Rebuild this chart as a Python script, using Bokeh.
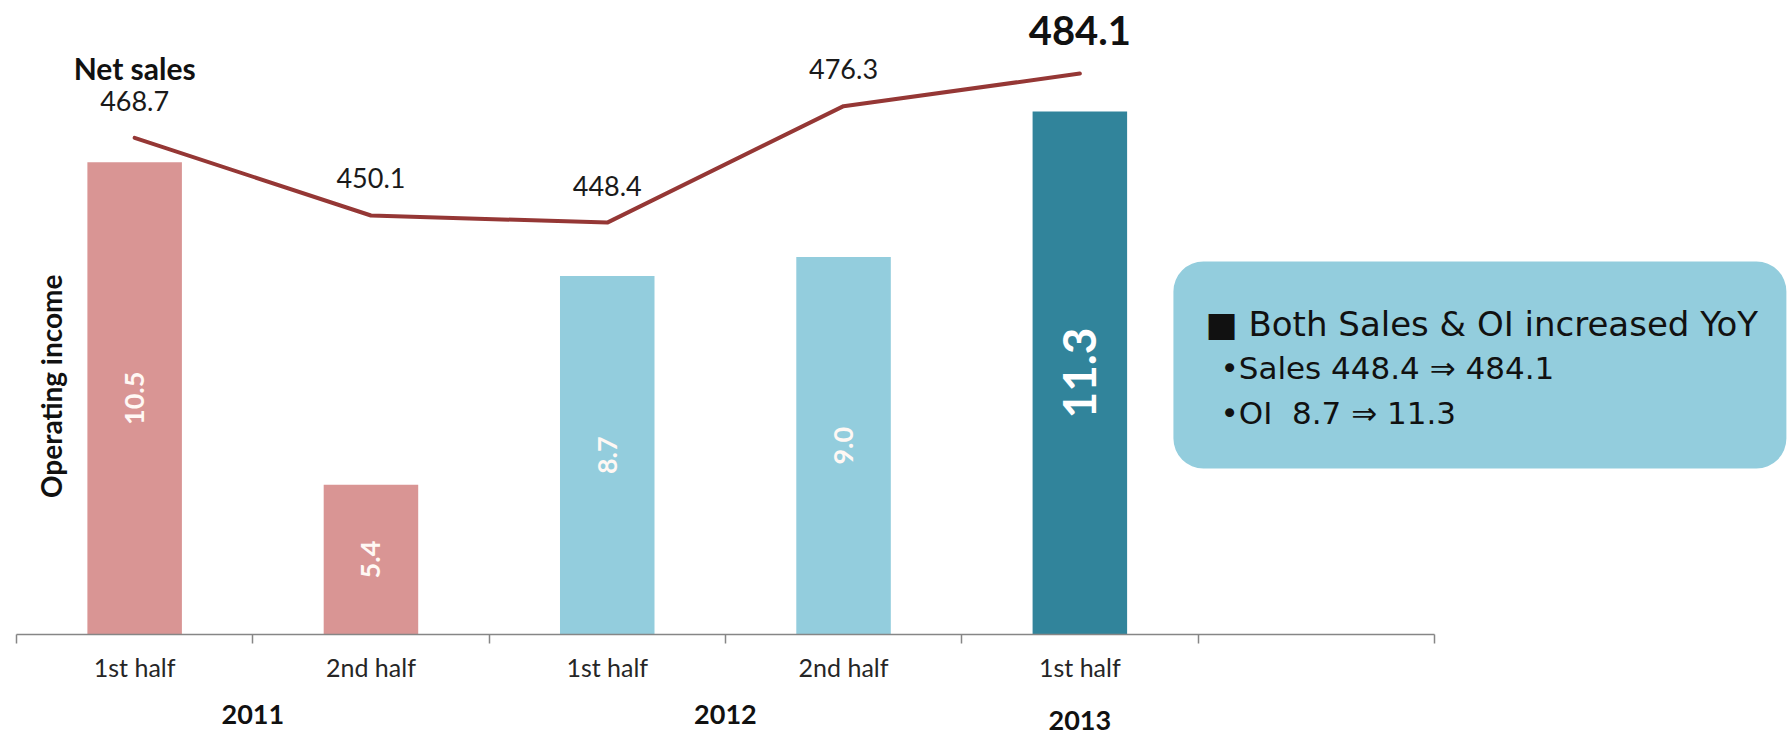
import math
from bokeh.plotting import figure
from bokeh.models import Range1d, LinearAxis, FixedTicker, BoxAnnotation, Label
from bokeh.core.properties import value
from bokeh.embed import file_html
from bokeh.resources import INLINE

# ---------------- data ----------------
years = ["2011", "2012", "2013"]
year_slots = [[0, 1], [2, 3], [4]]          # which half-year slots belong to each year
halves = ["1st half", "2nd half", "1st half", "2nd half", "1st half"]
operating_income = [10.5, 5.4, 8.7, 9.0, 11.3]
net_sales = [468.7, 450.1, 448.4, 476.3, 484.1]
bar_colors = ["#D99594", "#D99594", "#93CDDD", "#93CDDD", "#31849B"]
n_slots = 6
box_lines = ["\u25a0 Both Sales & OI increased YoY",
             "\u2022Sales 448.4 \u21d2 484.1",
             "\u2022OI \u00a08.7 \u21d2 11.3"]

# ---------------- layout ----------------
W, H = 1789, 752
slot_px = 236.3
frame_w = W - 16
oi_lo, oi_hi = 3.03, 12.93
ns_lo, ns_hi = 349.7, 499.7

xs = [i + 0.5 for i in range(len(halves))]

p = figure(width=W, height=H, output_backend="svg", toolbar_location=None,
           x_range=Range1d(0, frame_w / slot_px), y_range=Range1d(oi_lo, oi_hi),
           x_axis_location=None, y_axis_location=None,
           min_border_left=16, min_border_right=0, min_border_top=8, min_border_bottom=118)
p.extra_y_ranges = {"sales": Range1d(ns_lo, ns_hi)}
p.outline_line_color = None
p.grid.grid_line_color = None
p.background_fill_color = "white"

# ---- x axis: half-year labels, tick marks at slot boundaries ----
ax = LinearAxis(ticker=FixedTicker(ticks=xs, minor_ticks=list(range(n_slots + 1))))
ax.bounds = (0, n_slots)
ax.major_label_overrides = {x: h for x, h in zip(xs, halves)}
ax.axis_line_color = "#868686"
ax.axis_line_width = 1.5
ax.major_tick_line_color = None
ax.major_tick_in = 0
ax.major_tick_out = 0
ax.minor_tick_line_color = "#868686"
ax.minor_tick_line_width = 1.5
ax.minor_tick_in = 0
ax.minor_tick_out = 9
ax.major_label_text_font = "Lato"
ax.major_label_text_font_size = "25px"
ax.major_label_text_color = "#262626"
ax.major_label_standoff = 8
p.add_layout(ax, "below")


def year_axis(idx, standoff):
    pos = [sum(xs[i] for i in year_slots[k]) / len(year_slots[k]) for k in idx]
    a = LinearAxis(ticker=FixedTicker(ticks=pos, minor_ticks=[]))
    a.major_label_overrides = {x: years[k] for x, k in zip(pos, idx)}
    a.axis_line_color = None
    a.major_tick_line_color = None
    a.minor_tick_line_color = None
    a.major_tick_in = 0
    a.major_tick_out = 0
    a.minor_tick_in = 0
    a.minor_tick_out = 0
    a.major_label_text_font = "Lato"
    a.major_label_text_font_style = "bold"
    a.major_label_text_font_size = "27px"
    a.major_label_text_color = "#111111"
    a.major_label_standoff = standoff
    return a


# ---- x axes: year group labels (2013 sits a little lower in the original) ----
p.add_layout(year_axis([0, 1], 20), "below")
p.add_layout(year_axis([2], -16), "below")

# ---- bars (operating income) ----
p.vbar(x=xs, top=operating_income, bottom=oi_lo, width=0.4,
       fill_color=bar_colors, line_color=None)

mids = [(oi_lo + v) / 2 for v in operating_income]
p.text(x=xs[:-1], y=mids[:-1], text=[f"{v:.1f}" for v in operating_income[:-1]],
       angle=math.pi / 2, text_align="center", text_baseline="middle",
       text_font=value("Lato"), text_font_style="bold", text_font_size="27px",
       text_color="#FFF8F4")
p.text(x=xs[-1:], y=mids[-1:], text=[f"{operating_income[-1]:.1f}"],
       angle=math.pi / 2, text_align="center", text_baseline="middle",
       text_font=value("Lato"), text_font_style="bold", text_font_size="46px",
       text_color="white")

# ---- line (net sales) ----
p.line(x=xs, y=net_sales, y_range_name="sales", line_color="#953735",
       line_width=4, line_join="round", line_cap="round")
p.text(x=xs[:-1], y=net_sales[:-1], y_range_name="sales",
       text=[f"{v:.1f}" for v in net_sales[:-1]], y_offset=-37,
       text_align="center", text_baseline="middle",
       text_font=value("Lato"), text_font_size="27px", text_color="#1a1a1a")
p.text(x=xs[-1:], y=net_sales[-1:], y_range_name="sales",
       text=[f"{net_sales[-1]:.1f}"], y_offset=-43,
       text_align="center", text_baseline="middle",
       text_font=value("Lato"), text_font_style="bold", text_font_size="40px",
       text_color="#111111")
p.text(x=xs[:1], y=net_sales[:1], y_range_name="sales", text=["Net sales"],
       y_offset=-70, text_align="center", text_baseline="middle",
       text_font=value("Lato"), text_font_style="bold", text_font_size="30px",
       text_color="#111111")

# ---- axis title ----
p.add_layout(Label(x=0.148, y=6.955, text="Operating income", angle=math.pi / 2,
                   text_align="center", text_baseline="middle",
                   text_font="Lato", text_font_style="bold", text_font_size="28px",
                   text_color="#111111"))

# ---- comment box ----
box = BoxAnnotation(left=4.896, right=7.49, top=8.93, bottom=5.656,
                    fill_color="#93CDDD", fill_alpha=1.0, line_color=None,
                    border_radius=30, level="underlay")
p.add_layout(box)
p.text(x=[5.032], y=[7.941], text=box_lines[:1], text_align="left",
       text_baseline="middle", text_font=value("DejaVu Sans"),
       text_font_size="34px", text_color="#111111")
p.text(x=[5.095, 5.095], y=[7.25, 6.526], text=box_lines[1:], text_align="left",
       text_baseline="middle", text_font=value("DejaVu Sans"),
       text_font_size="31px", text_color="#111111")

open("out.html", "w").write(file_html(p, INLINE))
